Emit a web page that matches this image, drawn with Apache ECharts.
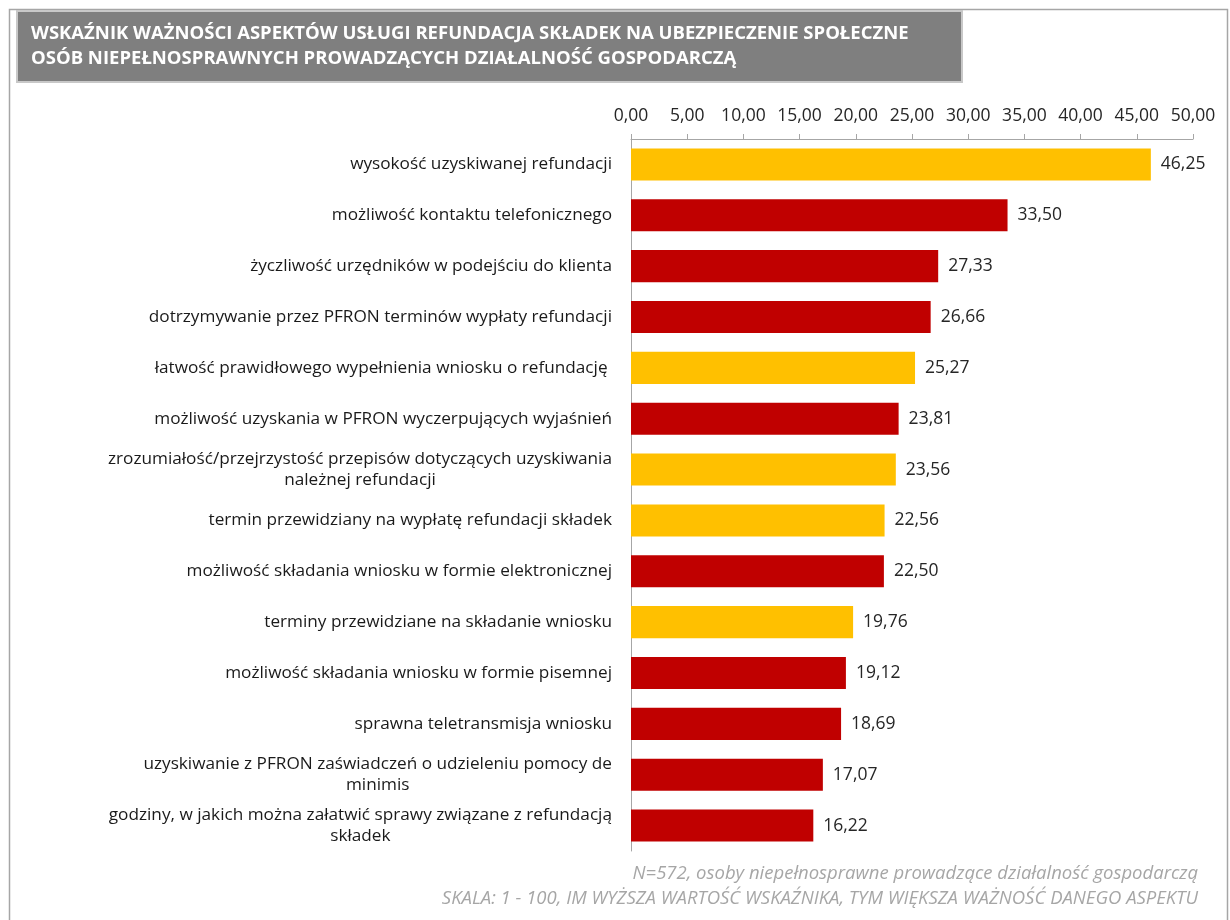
<!DOCTYPE html>
<html>
<head>
<meta charset="utf-8">
<script src="https://cdn.jsdelivr.net/npm/echarts@6/dist/echarts.min.js"></script>
<style>
  html, body { margin: 0; padding: 0; background: #ffffff; }
  #chart { width: 1230px; height: 920px; }
</style>
</head>
<body>
<div id="chart"></div>
<script>
// Aspects of the service, top to bottom
const categories = [
  'wysokość uzyskiwanej refundacji',
  'możliwość kontaktu telefonicznego',
  'życzliwość urzędników w podejściu do klienta',
  'dotrzymywanie przez PFRON terminów wypłaty refundacji',
  'łatwość prawidłowego wypełnienia wniosku o refundację ',
  'możliwość uzyskania w PFRON wyczerpujących wyjaśnień',
  'zrozumiałość/przejrzystość przepisów dotyczących uzyskiwania\nnależnej refundacji',
  'termin przewidziany na wypłatę refundacji składek',
  'możliwość składania wniosku w formie elektronicznej',
  'terminy przewidziane na składanie wniosku',
  'możliwość składania wniosku w formie pisemnej',
  'sprawna teletransmisja wniosku',
  'uzyskiwanie z PFRON zaświadczeń o udzieleniu pomocy de\nminimis',
  'godziny, w jakich można załatwić sprawy związane z refundacją\nskładek'
];

// Importance index (scale 1 - 100)
const values = [46.25, 33.50, 27.33, 26.66, 25.27, 23.81, 23.56, 22.56, 22.50, 19.76, 19.12, 18.69, 17.07, 16.22];

// Group of each aspect: 'a' = yellow bars, 'b' = red bars
const groups = ['a', 'b', 'b', 'b', 'a', 'b', 'a', 'a', 'b', 'a', 'b', 'b', 'b', 'b'];

// Value axis ticks
const axisMin = 0;
const axisMax = 50;
const axisStep = 5;

const titleLines = [
  'WSKAŹNIK WAŻNOŚCI ASPEKTÓW USŁUGI REFUNDACJA SKŁADEK NA UBEZPIECZENIE SPOŁECZNE',
  'OSÓB NIEPEŁNOSPRAWNYCH PROWADZĄCYCH DZIAŁALNOŚĆ GOSPODARCZĄ'
];
const noteLines = [
  'N=572, osoby niepełnosprawne prowadzące działalność gospodarczą',
  'SKALA: 1 - 100, IM WYŻSZA WARTOŚĆ WSKAŹNIKA, TYM WIĘKSZA WAŻNOŚĆ DANEGO ASPEKTU'
];

const palette = { a: '#FFC000', b: '#C00000' };
const FONT = '"Open Sans", "Noto Sans", sans-serif';

const fmt = v => Number(v).toFixed(2).replace('.', ',');

const chart = echarts.init(document.getElementById('chart'), null, { renderer: 'canvas' });

chart.setOption({
  backgroundColor: '#ffffff',
  animation: false,
  textStyle: { fontFamily: FONT },
  graphic: [
    {
      type: 'rect', z: 0, silent: true,
      shape: { x: 9.5, y: 9.5, width: 1218, height: 1000 },
      style: { fill: null, stroke: '#a6a6a6', lineWidth: 1.5 }
    },
    {
      type: 'rect', z: 1, silent: true,
      shape: { x: 17, y: 11, width: 945, height: 71 },
      style: { fill: '#7f7f7f', stroke: '#c8c8c8', lineWidth: 2 }
    }
  ],
  title: [
    {
      text: titleLines.join('\n'),
      left: 26, top: 16, z: 10,
      textStyle: { color: '#ffffff', fontSize: 18.5, fontWeight: 'bold', lineHeight: 25, fontFamily: FONT }
    },
    {
      text: noteLines[0],
      right: 27, top: 859, z: 10,
      textStyle: { color: '#a6a6a6', fontSize: 18.5, fontStyle: 'italic', fontWeight: 'normal', fontFamily: FONT }
    },
    {
      text: noteLines[1],
      right: 27, top: 884, z: 10,
      textStyle: { color: '#a6a6a6', fontSize: 18.5, fontStyle: 'italic', fontWeight: 'normal', fontFamily: FONT }
    }
  ],
  grid: { left: 631, right: 37, top: 139, height: 712, containLabel: false },
  xAxis: {
    type: 'value',
    position: 'top',
    min: axisMin, max: axisMax, interval: axisStep,
    axisLine: { show: true, lineStyle: { color: '#a6a6a6', width: 1 } },
    axisTick: { show: true, length: 5, lineStyle: { color: '#a6a6a6' } },
    splitLine: { show: false },
    axisLabel: { color: '#262626', fontSize: 17.5, margin: 14, formatter: fmt, fontFamily: FONT }
  },
  yAxis: {
    type: 'category',
    inverse: true,
    data: categories,
    axisLine: { show: true, lineStyle: { color: '#a6a6a6', width: 1 } },
    axisTick: { show: false },
    axisLabel: {
      margin: 19,
      color: '#1a1a1a',
      fontSize: 17.2,
      lineHeight: 21,
      fontFamily: FONT,
      formatter: v => v.split('\n').map(s => '{c|' + s + '}').join('\n'),
      rich: { c: { align: 'center', fontSize: 17.2, lineHeight: 21, color: '#1a1a1a', fontFamily: FONT } }
    }
  },
  series: [{
    type: 'bar',
    data: values.map((v, i) => ({ value: v, itemStyle: { color: palette[groups[i]] } })),
    barWidth: '63%',
    label: {
      show: true,
      position: 'right',
      distance: 10,
      color: '#262626',
      fontSize: 17.5,
      fontFamily: FONT,
      formatter: p => fmt(p.value)
    }
  }]
});
</script>
</body>
</html>
